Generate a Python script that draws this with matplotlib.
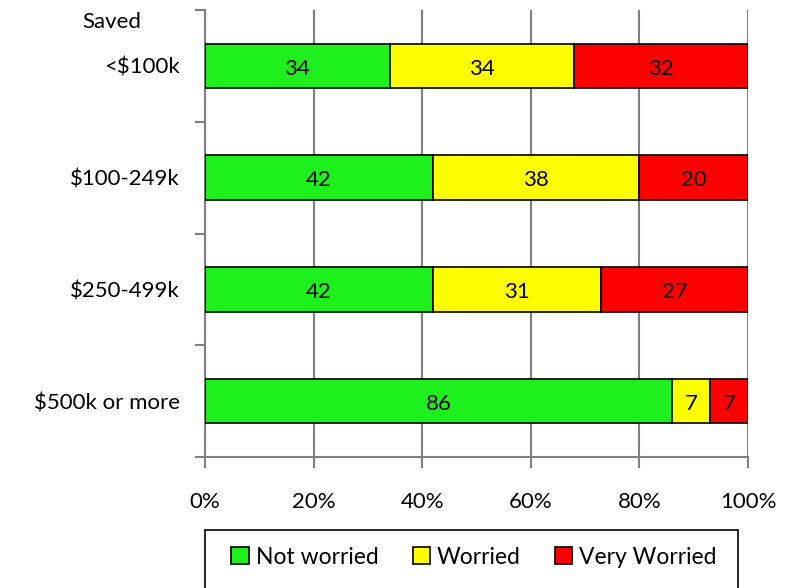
import matplotlib
matplotlib.use("Agg")
import matplotlib.pyplot as plt
from matplotlib.patches import Rectangle
import numpy as np

plt.rcParams['font.family'] = ['Lato', 'DejaVu Sans']

categories = ["<$100k", "$100-249k", "$250-499k", "$500k or more"]
not_worried = [34, 42, 42, 86]
worried = [34, 38, 31, 7]
very_worried = [32, 20, 27, 7]
series_names = ["Not worried", "Worried", "Very Worried"]
colors = ["#1EF01E", "#FFFF00", "#FF0000"]
xticks = [0, 20, 40, 60, 80, 100]
xticklabels = ["0%", "20%", "40%", "60%", "80%", "100%"]

FS = 16

fig = plt.figure(figsize=(7.91, 5.88), dpi=100)
ax = fig.add_axes([205/791, 1-457/588, (748-205)/791, (457-10)/588])

y = np.arange(len(categories))[::-1]
left = np.zeros(len(categories))
handles = []
for vals, name, col in zip([not_worried, worried, very_worried], series_names, colors):
    vals = np.array(vals, dtype=float)
    b = ax.barh(y, vals, left=left, height=0.4, color=col, edgecolor="black", linewidth=1.2, label=name, zorder=3)
    handles.append(b)
    for yi, l, v in zip(y, left, vals):
        ax.text(l + v/2, yi - 0.025, f"{int(v)}", ha="center", va="center", fontsize=FS, zorder=4)
    left += vals

ax.set_xlim(0, 100)
ax.set_ylim(-0.5, len(categories) - 0.5)
ax.set_xticks(xticks)
ax.set_xticklabels(xticklabels, fontsize=FS)
ax.set_yticks(y)
ax.set_yticklabels(categories, fontsize=FS)
ax.set_yticks(np.arange(-0.5, len(categories), 1.0), minor=True)
ax.tick_params(axis="y", which="major", length=0, pad=18)
ax.tick_params(axis="y", which="minor", length=7, color="#808080", width=1.5)
ax.tick_params(axis="x", length=8, color="#808080", width=1.5, pad=17, direction="out")
for s in ["top", "right"]:
    ax.spines[s].set_visible(False)
ax.spines["left"].set_color("#808080")
ax.spines["left"].set_linewidth(1.5)
ax.spines["bottom"].set_color("#808080")
ax.spines["bottom"].set_linewidth(1.5)
ax.xaxis.grid(True, color="#808080", linewidth=1.5, zorder=0)
ax.set_axisbelow(True)

fig.text(82/791, 1-22/588, "Saved", fontsize=FS, ha="left", va="center")

fig.patches.append(Rectangle((205/791, -0.01), (738-205)/791, (58/588) + 0.01,
                             transform=fig.transFigure, fill=False, edgecolor="black",
                             linewidth=1.2))
leg = fig.legend(handles=handles, labels=series_names, loc="center",
                 bbox_to_anchor=((233+715)/2/791, 1-557/588),
                 ncol=3, fontsize=16.5, frameon=False,
                 handlelength=0.75, handleheight=0.75, handletextpad=0.3, columnspacing=1.5,
                 borderpad=0.2, borderaxespad=0)

fig.savefig("out.png", dpi=100)
